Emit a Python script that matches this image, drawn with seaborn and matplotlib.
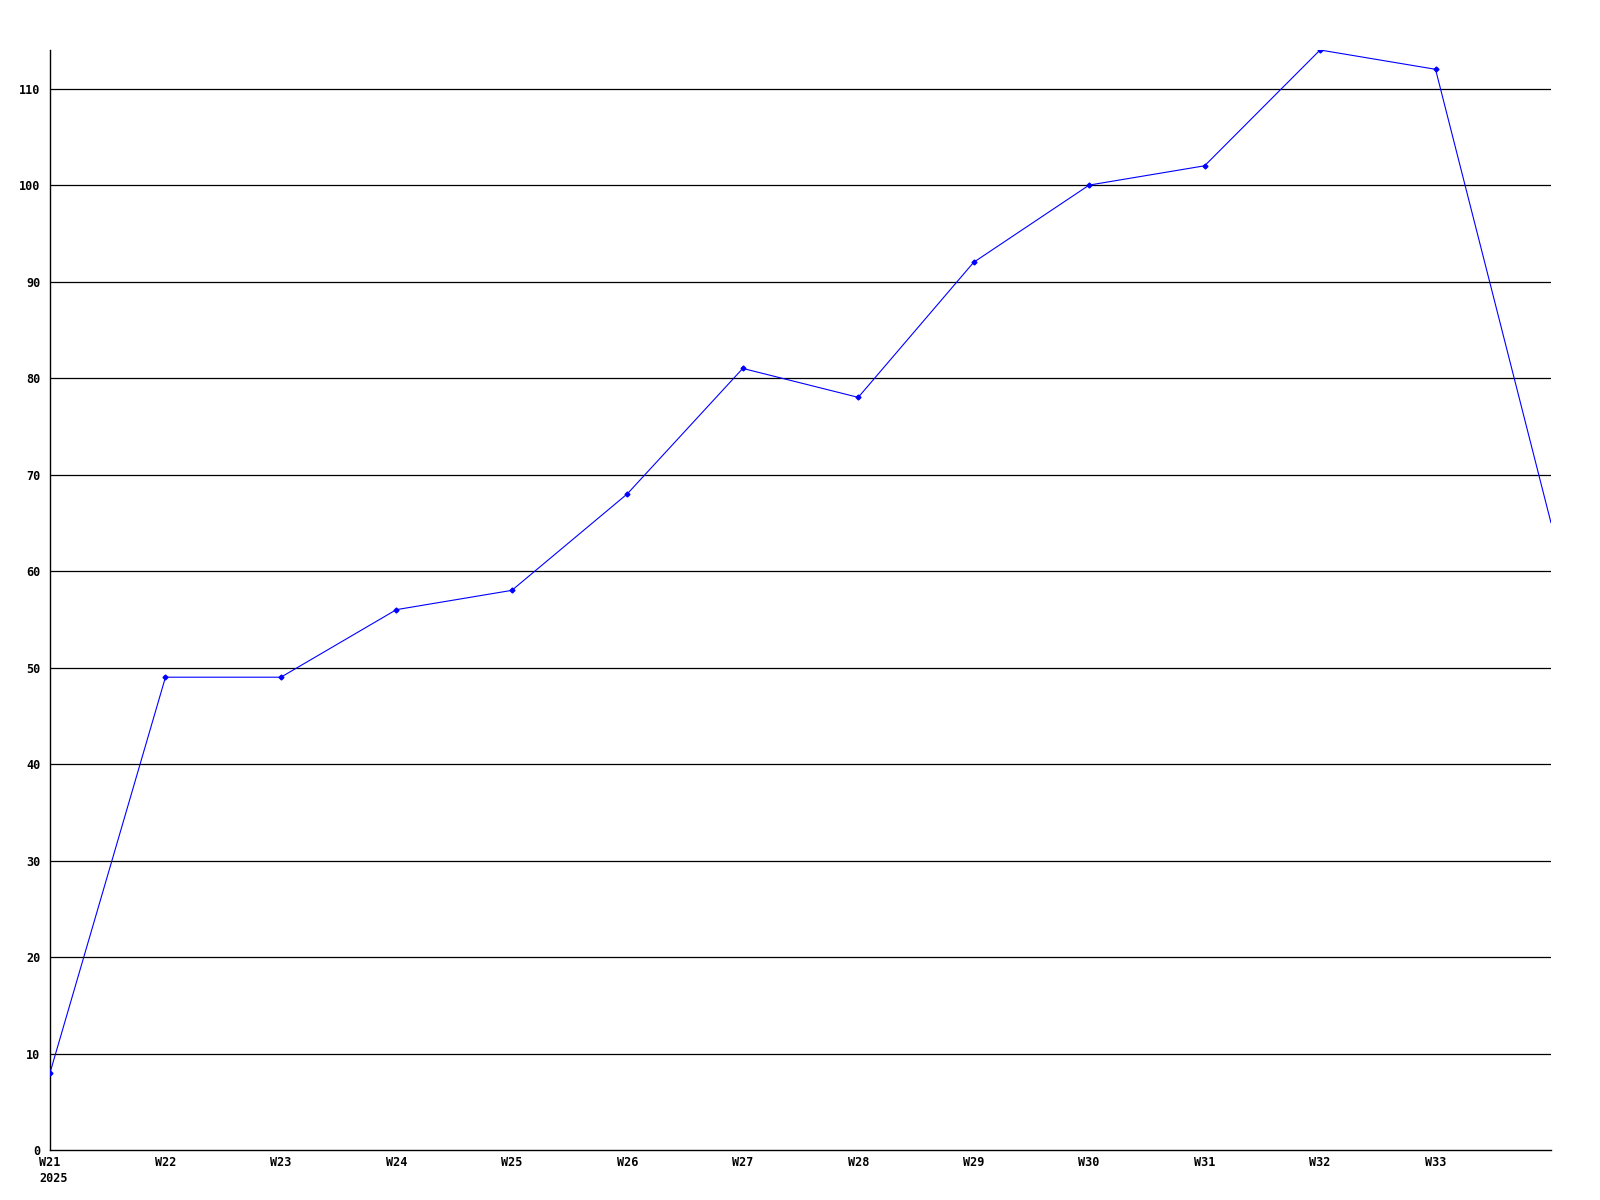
import matplotlib
matplotlib.use("Agg")
import matplotlib.pyplot as plt
import seaborn as sns
import pandas as pd

weeks = ["W21", "W22", "W23", "W24", "W25", "W26", "W27",
         "W28", "W29", "W30", "W31", "W32", "W33", "W34"]
values = [8, 49, 49, 56, 58, 68, 81, 78, 92, 100, 102, 114, 112, 65]
year_label = "2025"
y_ticks = [0, 10, 20, 30, 40, 50, 60, 70, 80, 90, 100, 110]

df = pd.DataFrame({"pos": range(len(weeks)), "week": weeks, "value": values})

sns.set_style("white")
plt.rcParams["font.family"] = ["DejaVu Sans Mono"]

fig = plt.figure(figsize=(16, 12), dpi=100)
ax = fig.add_axes([50 / 1600, 50 / 1200, 1501 / 1600, 1100 / 1200])

# horizontal grid lines
for y in y_ticks[1:]:
    ax.axhline(y, color="black", linewidth=0.9, zorder=1)

sns.lineplot(data=df, x="pos", y="value", color="#0000ff", linewidth=0.8,
             ax=ax, zorder=3)
# markers (last point sits on the right edge and is not marked)
ax.plot(df["pos"][:-1], df["value"][:-1], linestyle="none", marker="D",
        markersize=2.5, color="#0000ff", zorder=4)

ax.set_xlim(0, len(weeks) - 1)
ax.set_ylim(0, max(values))
ax.set_xticks(range(len(weeks) - 1))
ax.set_xticklabels(weeks[:-1], fontsize=8.5, fontweight="bold")
ax.set_yticks(y_ticks)
ax.set_yticklabels([str(t) for t in y_ticks], fontsize=8.5, fontweight="bold")
ax.tick_params(axis="both", length=0, colors="black")
ax.tick_params(axis="y", pad=7)
ax.tick_params(axis="x", pad=4)
ax.set_xlabel("")
ax.set_ylabel("")

for side in ["top", "right"]:
    ax.spines[side].set_visible(False)
for side in ["left", "bottom"]:
    ax.spines[side].set_color("black")
    ax.spines[side].set_linewidth(1.0)

ax.annotate(year_label, xy=(0, 0), xycoords="data", xytext=(-8, -15.5),
            textcoords="offset points", ha="left", va="top", color="black",
            fontsize=8.5, fontweight="bold", annotation_clip=False)

fig.savefig("out.png", dpi=100, facecolor="white")
